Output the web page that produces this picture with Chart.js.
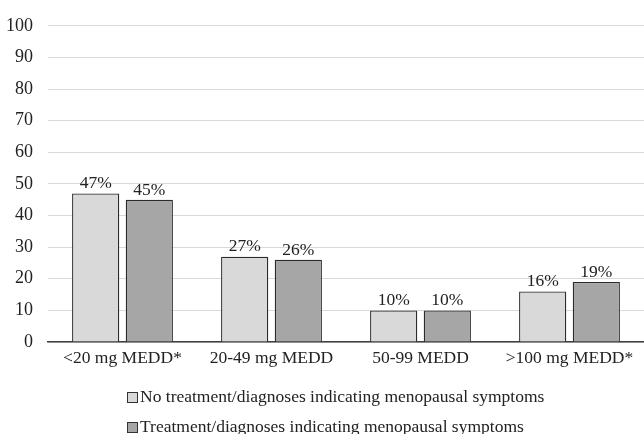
<!DOCTYPE html>
<html><head><meta charset="utf-8">
<script src="https://cdn.jsdelivr.net/npm/chart.js@4/dist/chart.umd.min.js"></script>
<style>html,body{margin:0;padding:0;background:#fff}#wrap{width:644px;height:434px}</style>
</head><body><div id="wrap"><canvas id="c" width="644" height="434"></canvas></div>
<script>
const categories = ['<20 mg MEDD*', '20-49 mg MEDD', '50-99 MEDD', '>100 mg MEDD*'];
const noTreatment = [47, 27, 10, 16];
const treatment = [45, 26, 10, 19];
const seriesNames = ['No treatment/diagnoses indicating menopausal symptoms', 'Treatment/diagnoses indicating menopausal symptoms'];
const yTicks = [0,10,20,30,40,50,60,70,80,90,100];

const FONT = "'Liberation Serif', 'Times New Roman', serif";

const labelPlugin = {
  id: 'valLabels',
  afterDatasetsDraw(chart) {
    const ctx = chart.ctx;
    ctx.save();
    ctx.font = '17.5px ' + FONT;
    ctx.fillStyle = '#222';
    ctx.textAlign = 'center';
    ctx.textBaseline = 'bottom';
    chart.data.datasets.forEach((ds, i) => {
      chart.getDatasetMeta(i).data.forEach((bar, j) => {
        ctx.fillText(ds.data[j] + '%', bar.x, bar.y - 1);
      });
    });
    ctx.restore();
  }
};

const legendPlugin = {
  id: 'customLegend',
  afterDraw(chart) {
    const ctx = chart.ctx;
    ctx.save();
    ctx.font = '17.5px ' + FONT;
    ctx.textAlign = 'left';
    ctx.textBaseline = 'middle';
    const x0 = 127;
    const rows = [397, 427];
    chart.data.datasets.forEach((ds, i) => {
      const y = rows[i];
      ctx.fillStyle = ds.backgroundColor;
      ctx.fillRect(x0, y - 5, 10, 10);
      ctx.strokeStyle = '#333';
      ctx.lineWidth = 1;
      ctx.strokeRect(x0 + 0.5, y - 4.5, 10, 10);
      ctx.fillStyle = '#222';
      ctx.fillText(ds.label, x0 + 13, y);
    });
    ctx.restore();
  }
};

new Chart(document.getElementById('c'), {
  type: 'bar',
  data: {
    labels: categories,
    datasets: [
      { label: seriesNames[0], data: noTreatment, backgroundColor: '#d9d9d9', borderColor: '#2b2b2b', borderWidth: 1.3 },
      { label: seriesNames[1], data: treatment, backgroundColor: '#a6a6a6', borderColor: '#2b2b2b', borderWidth: 1.3 }
    ]
  },
  options: {
    responsive: false,
    animation: false,
    layout: { padding: { top: 21, right: 0, bottom: 62, left: 0 } },
    datasets: { bar: { categoryPercentage: 0.72, barPercentage: 0.88 } },
    plugins: { legend: { display: false }, tooltip: { enabled: false } },
    scales: {
      x: {
        grid: { display: false, drawTicks: false },
        border: { color: '#404040', width: 1.5 },
        ticks: { color: '#222', font: { family: FONT, size: 17.5 }, padding: 6, maxRotation: 0, autoSkip: false },
        afterFit(s) { s.height = 30; }
      },
      y: {
        min: 0, max: 100,
        afterBuildTicks(s) { s.ticks = yTicks.map(v => ({ value: v })); },
        grid: { color: '#d9d9d9', lineWidth: 1, drawTicks: false },
        border: { display: false },
        ticks: { color: '#222', font: { family: FONT, size: 18 }, padding: 15 },
        afterFit(s) { s.width = 48; }
      }
    }
  },
  plugins: [labelPlugin, legendPlugin]
});
</script></body></html>
